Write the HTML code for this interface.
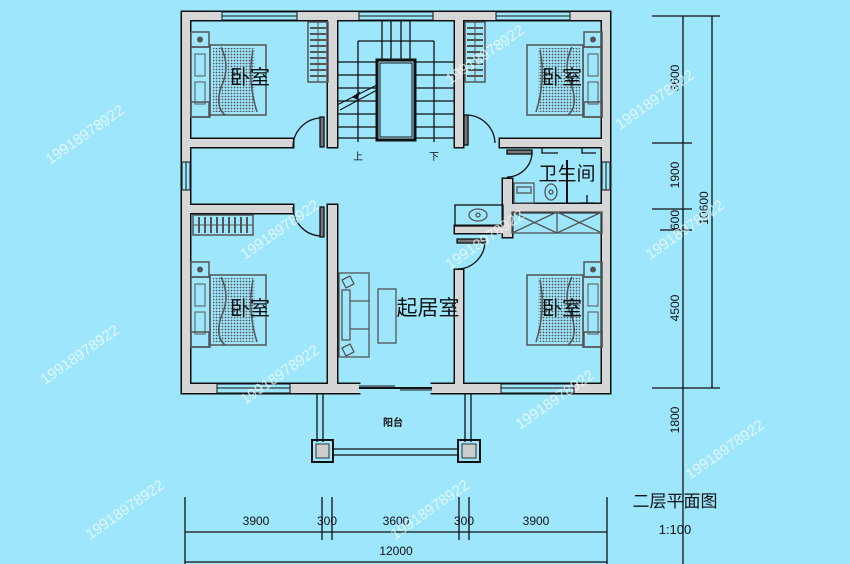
<!DOCTYPE html>
<html><head><meta charset="utf-8"><style>
html,body{margin:0;padding:0;background:#9de6fc;}
svg{display:block}
text{font-family:"Liberation Sans","Noto Sans CJK SC",sans-serif;}
</style></head><body>
<svg width="850" height="564" viewBox="0 0 850 564" xmlns="http://www.w3.org/2000/svg">
<defs>
<pattern id="dots" width="3" height="3" patternUnits="userSpaceOnUse"><rect width="3" height="3" fill="#9de6fc"/><circle cx="1.5" cy="1.5" r="0.9" fill="#555"/></pattern>
<g id="bed">
  <rect x="0" y="0" width="18" height="15" fill="none" stroke="#555" stroke-width="1.5"/>
  <circle cx="9" cy="7.5" r="3" fill="#555"/>
  <rect x="0" y="15" width="19" height="70" fill="none" stroke="#555" stroke-width="1.5"/>
  <rect x="4" y="22" width="10" height="22" fill="none" stroke="#555"/>
  <rect x="4" y="50" width="10" height="22" fill="none" stroke="#555"/>
  <rect x="19" y="13" width="56" height="70" fill="none" stroke="#555" stroke-width="1.5"/>
  <rect x="22" y="16" width="42" height="64" fill="url(#dots)"/>
  <path d="M30 15 q10 20 0 40 q-6 20 4 28 M62 18 q-6 30 4 62" fill="none" stroke="#555" stroke-width="1.5"/>
  <rect x="0" y="70" width="18" height="15" fill="none" stroke="#555" stroke-width="1.5"/>
</g>
<g id="ward">
  <rect x="0" y="0" width="20" height="60" fill="none" stroke="#555" stroke-width="1.5"/>
  <path d="M2 6h16M2 12h16M2 18h16M2 24h16M2 30h16M2 36h16M2 42h16M2 48h16M2 54h16" stroke="#555" stroke-width="2"/>
  <line x1="10" y1="0" x2="10" y2="60" stroke="#555"/>
</g>
</defs>

<!-- stairs -->
<g stroke="#111" stroke-width="1.3" fill="none">
  <path d="M382 20V60M391 20V60M401 20V60M410 20V60"/>
  <path d="M358 41H434M358 41V142M434 41V142"/>
  <path d="M337 62H377M337 75H377M337 88H377M337 101H377M337 114H377M337 127H377M337 138H377"/>
  <path d="M415 62H455M415 75H455M415 88H455M415 101H455M415 114H455M415 127H455M415 138H455"/>
  <rect x="377" y="60" width="38" height="80" stroke-width="3"/>
  <rect x="380" y="63" width="32" height="74" fill="#9de6fc" stroke-width="1"/>
  <path d="M337 105L377 85M340 110L377 90" stroke-width="1"/>
  <path d="M353 97l6 -4 -2 6z" fill="#111"/>
</g>
<text x="358" y="160" font-size="10" text-anchor="middle" fill="#111">上</text>
<text x="434" y="160" font-size="10" text-anchor="middle" fill="#111">下</text>

<!-- wall outlines (stroke) then fills -->
<g stroke="#111" stroke-width="3" fill="#111">
<rect x="182" y="12" width="428" height="8"/>
<rect x="182" y="12" width="8" height="381"/>
<rect x="602" y="12" width="8" height="381"/>
<rect x="182" y="384" width="177" height="9"/>
<rect x="432" y="384" width="178" height="9"/>
<rect x="328" y="12" width="9" height="135"/>
<rect x="455" y="12" width="8" height="135"/>
<rect x="190" y="139" width="103" height="8"/>
<rect x="500" y="139" width="102" height="8"/>
<rect x="190" y="205" width="103" height="8"/>
<rect x="328" y="205" width="9" height="179"/>
<rect x="455" y="270" width="8" height="114"/>
<rect x="455" y="226" width="57" height="7"/>
<rect x="503" y="179" width="9" height="58"/>
<rect x="512" y="204" width="90" height="8"/>
</g>
<g fill="#d6d6d6">
<rect x="182" y="12" width="428" height="8"/>
<rect x="182" y="12" width="8" height="381"/>
<rect x="602" y="12" width="8" height="381"/>
<rect x="182" y="384" width="177" height="9"/>
<rect x="432" y="384" width="178" height="9"/>
<rect x="328" y="12" width="9" height="135"/>
<rect x="455" y="12" width="8" height="135"/>
<rect x="190" y="139" width="103" height="8"/>
<rect x="500" y="139" width="102" height="8"/>
<rect x="190" y="205" width="103" height="8"/>
<rect x="328" y="205" width="9" height="179"/>
<rect x="455" y="270" width="8" height="114"/>
<rect x="455" y="226" width="57" height="7"/>
<rect x="503" y="179" width="9" height="58"/>
<rect x="512" y="204" width="90" height="8"/>
</g>
<!-- windows -->
<g fill="#9de6fc" stroke="#111" stroke-width="1">
<rect x="222" y="12" width="75" height="8"/><rect x="359" y="12" width="74" height="8"/><rect x="496" y="12" width="74" height="8"/>
<rect x="217" y="384" width="73" height="9"/><rect x="501" y="384" width="73" height="9"/>
<rect x="182" y="162" width="8" height="28"/><rect x="602" y="162" width="8" height="28"/>
</g>
<g stroke="#111" stroke-width="1">
<path d="M222 16H297M359 16H433M496 16H570M217 388H290M501 388H574M186 162V190M606 162V190"/>
</g>
<rect x="359" y="384" width="73" height="9" fill="#9de6fc"/>
<path d="M359 388H432" stroke="#111" stroke-width="2"/>
<path d="M359 386H395M400 390H432" stroke="#111" stroke-width="1"/>

<!-- doors -->
<g fill="none" stroke="#111" stroke-width="1.3">
<path d="M293 147A29 29 0 0 1 322 118"/><rect x="320" y="117" width="4" height="30" fill="#777"/>
<path d="M495 143A29 29 0 0 0 466 115"/><rect x="464" y="115" width="4" height="30" fill="#777"/>
<path d="M532 152A25 25 0 0 1 507 177"/><rect x="507" y="150" width="25" height="4" fill="#777"/>
<path d="M293 207A29 29 0 0 0 322 236"/><rect x="320" y="207" width="4" height="30" fill="#777"/>
<path d="M485 241A28 28 0 0 1 457 269"/><rect x="457" y="239" width="28" height="4" fill="#777"/>
</g>

<!-- bath / wash / closet -->
<g fill="none" stroke="#555" stroke-width="1.3">
<rect x="455" y="205" width="48" height="21" stroke="#111"/>
<ellipse cx="478" cy="215" rx="9" ry="6"/><circle cx="478" cy="215" r="2"/>
<rect x="514" y="183" width="20" height="20"/><rect x="517" y="187" width="14" height="6"/>
<ellipse cx="551" cy="192" rx="6" ry="8"/><circle cx="551" cy="192" r="2"/>
<path d="M567 160V203" stroke="#111" stroke-width="2"/>
<path d="M580 203h14M587 203v-8" stroke="#111"/>
<path d="M542 147v6h16M582 147v6h14" stroke="#111"/>
<rect x="512" y="212" width="90" height="21"/>
<path d="M512 212L557 233M557 212L512 233M557 212L602 233M602 212L557 233M557 212V233"/>
</g>
<text x="567" y="180" font-size="19" text-anchor="middle" fill="#111">卫生间</text>

<!-- furniture -->
<use href="#bed" x="191" y="32"/>
<use href="#bed" transform="translate(602,32) scale(-1,1)"/>
<use href="#bed" x="191" y="262"/>
<use href="#bed" transform="translate(602,262) scale(-1,1)"/>
<use href="#ward" x="308" y="22"/>
<use href="#ward" x="465" y="22"/>
<use href="#ward" transform="translate(193,235) rotate(-90)"/>
<g fill="none" stroke="#555" stroke-width="1.3">
<rect x="339" y="273" width="30" height="84"/><rect x="342" y="290" width="8" height="50"/>
<path d="M350 301h19M350 329h19"/>
<path d="M342 280l8 -4 4 8 -8 4zM342 348l8 -4 4 8 -8 4z"/>
<rect x="378" y="289" width="18" height="54"/>
</g>

<text x="250" y="84" font-size="20" text-anchor="middle" fill="#111">卧室</text>
<text x="562" y="84" font-size="20" text-anchor="middle" fill="#111">卧室</text>
<text x="250" y="315" font-size="20" text-anchor="middle" fill="#111">卧室</text>
<text x="562" y="315" font-size="20" text-anchor="middle" fill="#111">卧室</text>
<text x="428" y="315" font-size="21" text-anchor="middle" fill="#111">起居室</text>

<!-- balcony -->
<g stroke="#111" stroke-width="1.3" fill="none">
<path d="M317 393V442M323 393V442M465 393V442M471 393V442"/>
<path d="M333 449H458M333 455H458"/>
<rect x="312" y="440" width="21" height="22" stroke-width="2"/>
<rect x="458" y="440" width="22" height="22" stroke-width="2"/>
</g>
<rect x="316" y="444" width="13" height="14" fill="#ccc" stroke="#333"/>
<rect x="462" y="444" width="14" height="14" fill="#ccc" stroke="#333"/>
<text x="393" y="426" font-size="10" text-anchor="middle" font-weight="bold" fill="#111">阳台</text>

<!-- right dims -->
<g stroke="#111" stroke-width="1.3">
<path d="M683 16V564M712 16V388"/>
<path d="M652 16H720M652 143H692M652 209H692M660 230H692M652 388H720"/>
</g>
<g font-size="12" fill="#111" text-anchor="middle">
<text transform="translate(679,78) rotate(-90)">3600</text>
<text transform="translate(679,175) rotate(-90)">1900</text>
<text transform="translate(679,220) rotate(-90)">600</text>
<text transform="translate(679,308) rotate(-90)">4500</text>
<text transform="translate(679,420) rotate(-90)">1800</text>
<text transform="translate(708,208) rotate(-90)">10600</text>
</g>
<!-- bottom dims -->
<g stroke="#111" stroke-width="1.3">
<path d="M185 532H607M185 562H607"/>
<path d="M185 497V564M607 497V564M322 497V540M332 497V540M459 497V540M469 497V540"/>
</g>
<g font-size="12" fill="#111" text-anchor="middle">
<text x="256" y="525">3900</text><text x="327" y="525">300</text><text x="396" y="525">3600</text>
<text x="464" y="525">300</text><text x="536" y="525">3900</text><text x="396" y="555">12000</text>
</g>
<text x="675" y="507" font-size="17" text-anchor="middle" fill="#111">二层平面图</text>
<text x="675" y="534" font-size="13" text-anchor="middle" fill="#111">1:100</text>

<!-- watermarks -->
<g font-family="Liberation Serif,serif" font-size="15" fill="#fff" fill-opacity="0.7">
<text transform="translate(50,165) rotate(-35)">19918978922</text>
<text transform="translate(45,385) rotate(-35)">19918978922</text>
<text transform="translate(245,260) rotate(-35)">19918978922</text>
<text transform="translate(245,405) rotate(-35)">19918978922</text>
<text transform="translate(450,85) rotate(-35)">19918978922</text>
<text transform="translate(450,270) rotate(-35)">19918978922</text>
<text transform="translate(620,130) rotate(-35)">19918978922</text>
<text transform="translate(650,260) rotate(-35)">19918978922</text>
<text transform="translate(520,430) rotate(-35)">19918978922</text>
<text transform="translate(90,540) rotate(-35)">19918978922</text>
<text transform="translate(395,540) rotate(-35)">19918978922</text>
<text transform="translate(690,480) rotate(-35)">19918978922</text>
</g>
</svg>
</body></html>
